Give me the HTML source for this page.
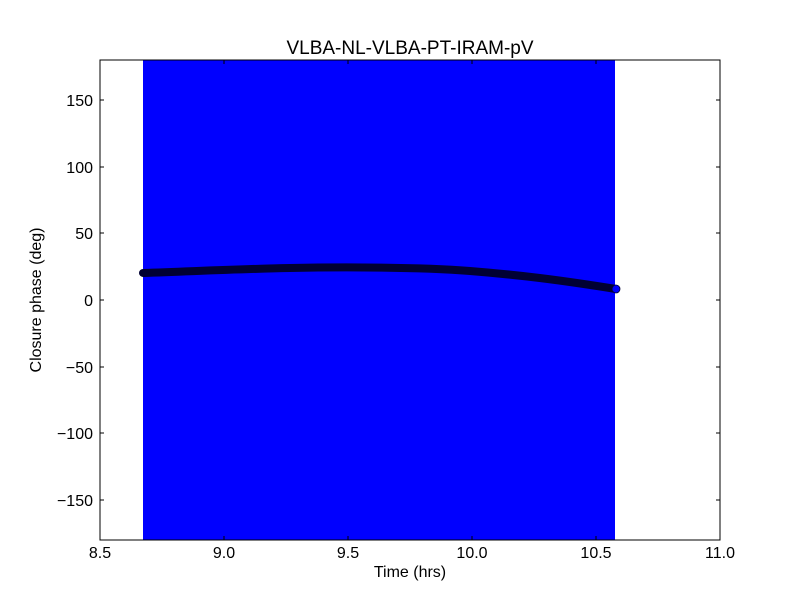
<!DOCTYPE html>
<html><head><style>body{margin:0;background:#fff}</style></head><body>
<svg width="800" height="600" xmlns="http://www.w3.org/2000/svg" font-family="Liberation Sans, DejaVu Sans, sans-serif">
<rect width="800" height="600" fill="#fff"/>
<rect x="143" y="60" width="472" height="480" fill="#0000ff"/>
<path d="M143,273 C200,271 240,269 290,268 S420,267 470,271 S560,280 616,289" stroke="#000033" stroke-width="8" fill="none" stroke-linecap="round"/>
<circle cx="616" cy="289" r="4" fill="#0000ff" stroke="#000033" stroke-width="0.8"/>
<rect x="100" y="60" width="620" height="480" fill="none" stroke="#000" stroke-width="1"/>
<g stroke="#000" stroke-width="1">
<line x1="100" y1="540" x2="100" y2="536"/><line x1="100" y1="60" x2="100" y2="64"/>
<line x1="224" y1="540" x2="224" y2="536"/><line x1="224" y1="60" x2="224" y2="64"/>
<line x1="348" y1="540" x2="348" y2="536"/><line x1="348" y1="60" x2="348" y2="64"/>
<line x1="472" y1="540" x2="472" y2="536"/><line x1="472" y1="60" x2="472" y2="64"/>
<line x1="596" y1="540" x2="596" y2="536"/><line x1="596" y1="60" x2="596" y2="64"/>
<line x1="720" y1="540" x2="720" y2="536"/><line x1="720" y1="60" x2="720" y2="64"/>
<line x1="100" y1="100" x2="104" y2="100"/><line x1="720" y1="100" x2="716" y2="100"/>
<line x1="100" y1="167" x2="104" y2="167"/><line x1="720" y1="167" x2="716" y2="167"/>
<line x1="100" y1="233" x2="104" y2="233"/><line x1="720" y1="233" x2="716" y2="233"/>
<line x1="100" y1="300" x2="104" y2="300"/><line x1="720" y1="300" x2="716" y2="300"/>
<line x1="100" y1="367" x2="104" y2="367"/><line x1="720" y1="367" x2="716" y2="367"/>
<line x1="100" y1="433" x2="104" y2="433"/><line x1="720" y1="433" x2="716" y2="433"/>
<line x1="100" y1="500" x2="104" y2="500"/><line x1="720" y1="500" x2="716" y2="500"/>
</g>
<g font-size="16" text-anchor="middle" fill="#000">
<text x="100" y="558">8.5</text><text x="224" y="558">9.0</text><text x="348" y="558">9.5</text>
<text x="472" y="558">10.0</text><text x="596" y="558">10.5</text><text x="720" y="558">11.0</text>
</g>
<g font-size="16" text-anchor="end" fill="#000">
<text x="93" y="106">150</text><text x="93" y="173">100</text><text x="93" y="239">50</text>
<text x="93" y="306">0</text><text x="93" y="373">−50</text><text x="93" y="439">−100</text><text x="93" y="506">−150</text>
</g>
<text x="410" y="54" font-size="19" text-anchor="middle">VLBA-NL-VLBA-PT-IRAM-pV</text>
<text x="410" y="577" font-size="16" text-anchor="middle">Time (hrs)</text>
<text transform="translate(41,300) rotate(-90)" font-size="16" text-anchor="middle">Closure phase (deg)</text>
</svg>
</body></html>
